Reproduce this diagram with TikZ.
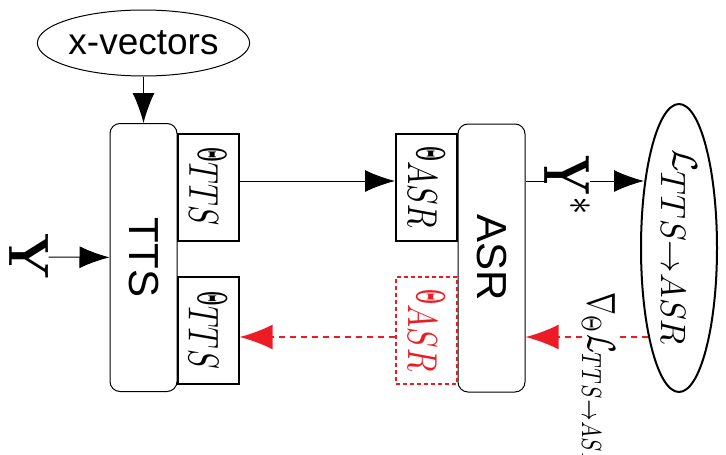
\documentclass[tikz,border=0pt]{standalone}
\usepackage[no-math]{fontspec}
\setsansfont{Liberation Sans}
\usepackage{graphicx}
\usetikzlibrary{shapes.geometric,arrows.meta,calc}
\definecolor{gradred}{RGB}{237,28,36}
% narrow bold Theta with a lowered index, and rotated, fitted math labels
\newcommand{\paramname}[1]{\scalebox{0.55}[1.0]{$\mathbf{\Theta}$}\raisebox{-0.2em}{$#1$}}
\newcommand{\fitmath}[3]{\rotatebox{-90}{\resizebox*{#1}{#2}{#3}}}

\begin{document}
\begin{tikzpicture}[x=1pt,y=-1pt,
    model/.style={draw,rounded corners=10pt,line width=1pt,minimum width=67pt,
      minimum height=268pt,inner sep=0pt,font=\sffamily\fontsize{42}{44}\selectfont},
    param/.style={draw,line width=2pt,minimum width=61pt,minimum height=107pt,inner sep=0pt},
    redparam/.style={param,draw=gradred,text=gradred,line width=1.5pt,dash pattern=on 4pt off 3pt},
    fwd/.style={-{Latex[length=30pt,width=22pt]},line width=1pt},
    bwd/.style={draw=gradred,line width=2pt,dash pattern=on 6pt off 5pt},
    bwdarrow/.style={bwd,-{Latex[length=33pt,width=25pt]}}]
  \clip (0,0) rectangle (726,455);
  % Speaker embedding input
  \node[ellipse,draw,line width=1pt,minimum width=189pt,minimum height=66pt,inner sep=0pt,
    font=\sffamily\fontsize{37}{40}\selectfont] (xvec) at (143.5,43) {x-vectors};
  % The two models
  \node[model] (tts) at (143.5,257.5) {\rotatebox{-90}{TTS}};
  \node[model] (asr) at (491.5,258) {\rotatebox{-90}{ASR}};
  % Parameter boxes
  \node[param] (ttsup) at (208,187) {\fitmath{78pt}{37pt}{\paramname{TTS}}};
  \node[param] (ttsdown) at (208,330.5) {\fitmath{77pt}{38pt}{\paramname{TTS}}};
  \node[param] (asrup) at (426.5,187) {\fitmath{82pt}{37pt}{\paramname{ASR}}};
  \node[redparam] (asrdown) at (426.5,330.5) {\fitmath{82pt}{37pt}{\paramname{ASR}}};
  % Inputs, outputs and loss
  \node[inner sep=0pt] (yin) at (29,257) {\fitmath{47pt}{39pt}{$\mathbf{Y}$}};
  \node[inner sep=0pt] (ystar) at (567.5,186) {\fitmath{62pt}{45pt}{$\mathbf{Y}^{*}$}};
  \node[ellipse,draw,line width=2pt,minimum width=76pt,minimum height=288pt,inner sep=0pt]
    (loss) at (679,248) {\fitmath{197pt}{36pt}{$\mathcal{L}_{\textstyle TTS{\rightarrow}ASR}$}};
  \node[inner sep=0pt] (grad) at (598.5,381.5)
    {\fitmath{177pt}{33pt}{$\nabla_{\Theta}\mathcal{L}_{TTS\rightarrow ASR}$}};
  % Levels of the forward and backward paths
  \coordinate (top) at (0,181);
  \coordinate (bot) at (0,337);
  % Forward path
  \draw[fwd] (xvec) -- (tts);
  \draw[fwd] (yin) -- (tts);
  \draw[fwd] (ttsup.east |- top) -- (asrup.west |- top);
  \draw[line width=1pt] (asr.east |- top) -- (ystar.west |- top);
  \draw[fwd] (ystar.east |- top) -- ($(loss.west |- top)+(4,0)$);
  % Backward (gradient) path
  \draw[bwd] ($(loss.west |- bot)+(8,0)$) -- (grad.east |- bot);
  \draw[bwdarrow] (grad.west |- bot) -- (asr.east |- bot);
  \draw[bwdarrow] (asrdown.west |- bot) -- (ttsdown.east |- bot);
\end{tikzpicture}
\end{document}
